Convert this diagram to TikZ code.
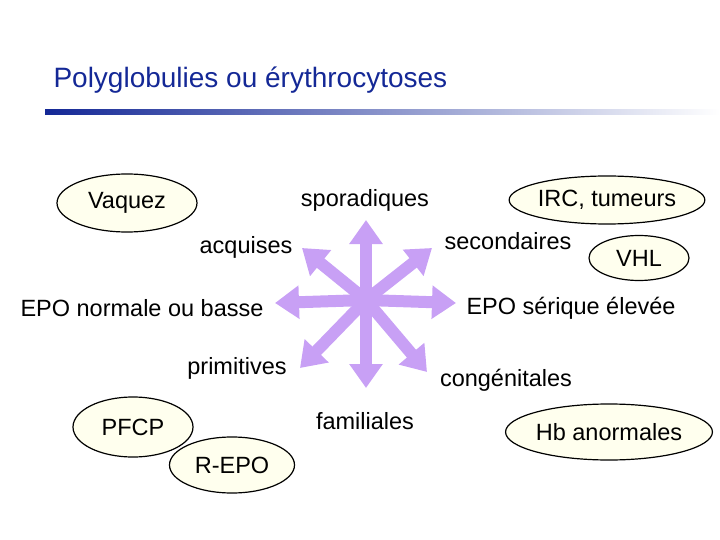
\documentclass[tikz,border=0pt]{standalone}
\usepackage{fontspec}
\setmainfont{Liberation Sans}
\usetikzlibrary{arrows.meta,shapes.geometric}
\definecolor{lav}{RGB}{200,160,245}
\definecolor{cream}{RGB}{255,255,238}
\definecolor{titleblue}{RGB}{20,40,150}
\tikzset{oval/.style = {shape=ellipse,draw,line width=1.2pt,fill=cream,inner sep=0pt,font=\fontsize{23.5}{28}\selectfont},
         lbl/.style = {font=\fontsize{23.5}{28}\selectfont},
         ray/.style = {lav,line width=12pt,-{Triangle[width=32pt,length=24pt]}}}
\begin{document}
\begin{tikzpicture}[x=1pt,y=-1pt]
                    \useasboundingbox (0,0) rectangle (720,540);
                    \node[anchor=west,text=titleblue,font=\fontsize{28}{33}\selectfont] (title) at (50,80) {Polyglobulies ou érythrocytoses};
                    \shade[left color=titleblue,right color=white] (45,110) rectangle (720,115);

                    \coordinate (c) at (366,300);
                    \coordinate (n) at (366,220);
                    \coordinate (s) at (366,388);
                    \coordinate (w) at (275,303);
                    \coordinate (e) at (456,303);
                    \coordinate (nw) at (302,248);
                    \coordinate (ne) at (432,248);
                    \coordinate (sw) at (300,368);
                    \coordinate (se) at (427,372);
                    \foreach \d in {n,s,w,e,nw,ne,sw,se}
                        \draw[ray] (c) -- (\d);

                    \node[oval,minimum width=140,minimum height=58] (vaquez) at (127,203) {Vaquez};
                    \node[oval,minimum width=155,minimum height=48] (irc) at (607,200) {IRC, tumeurs};
                    \node[oval,minimum width=100,minimum height=45] (vhl) at (639,258) {VHL};
                    \node[oval,minimum width=120,minimum height=60] (pfcp) at (133,427) {PFCP};
                    \node[oval,minimum width=125,minimum height=56] (repo) at (232,465) {R-EPO};
                    \node[oval,minimum width=165,minimum height=56] (hb) at (609,432) {Hb anormales};

                    \node[lbl] (spor) at (365,200) {sporadiques};
                    \node[lbl] (acq) at (246,247) {acquises};
                    \node[lbl] (sec) at (508,241) {secondaires};
                    \node[lbl] (epon) at (142,308) {EPO normale ou basse};
                    \node[lbl] (epos) at (571,308) {EPO sérique élevée};
                    \node[lbl] (prim) at (237,368) {primitives};
                    \node[lbl] (cong) at (506,380) {congénitales};
                    \node[lbl] (fam) at (365,421) {familiales};
                \end{tikzpicture}
\end{document}
